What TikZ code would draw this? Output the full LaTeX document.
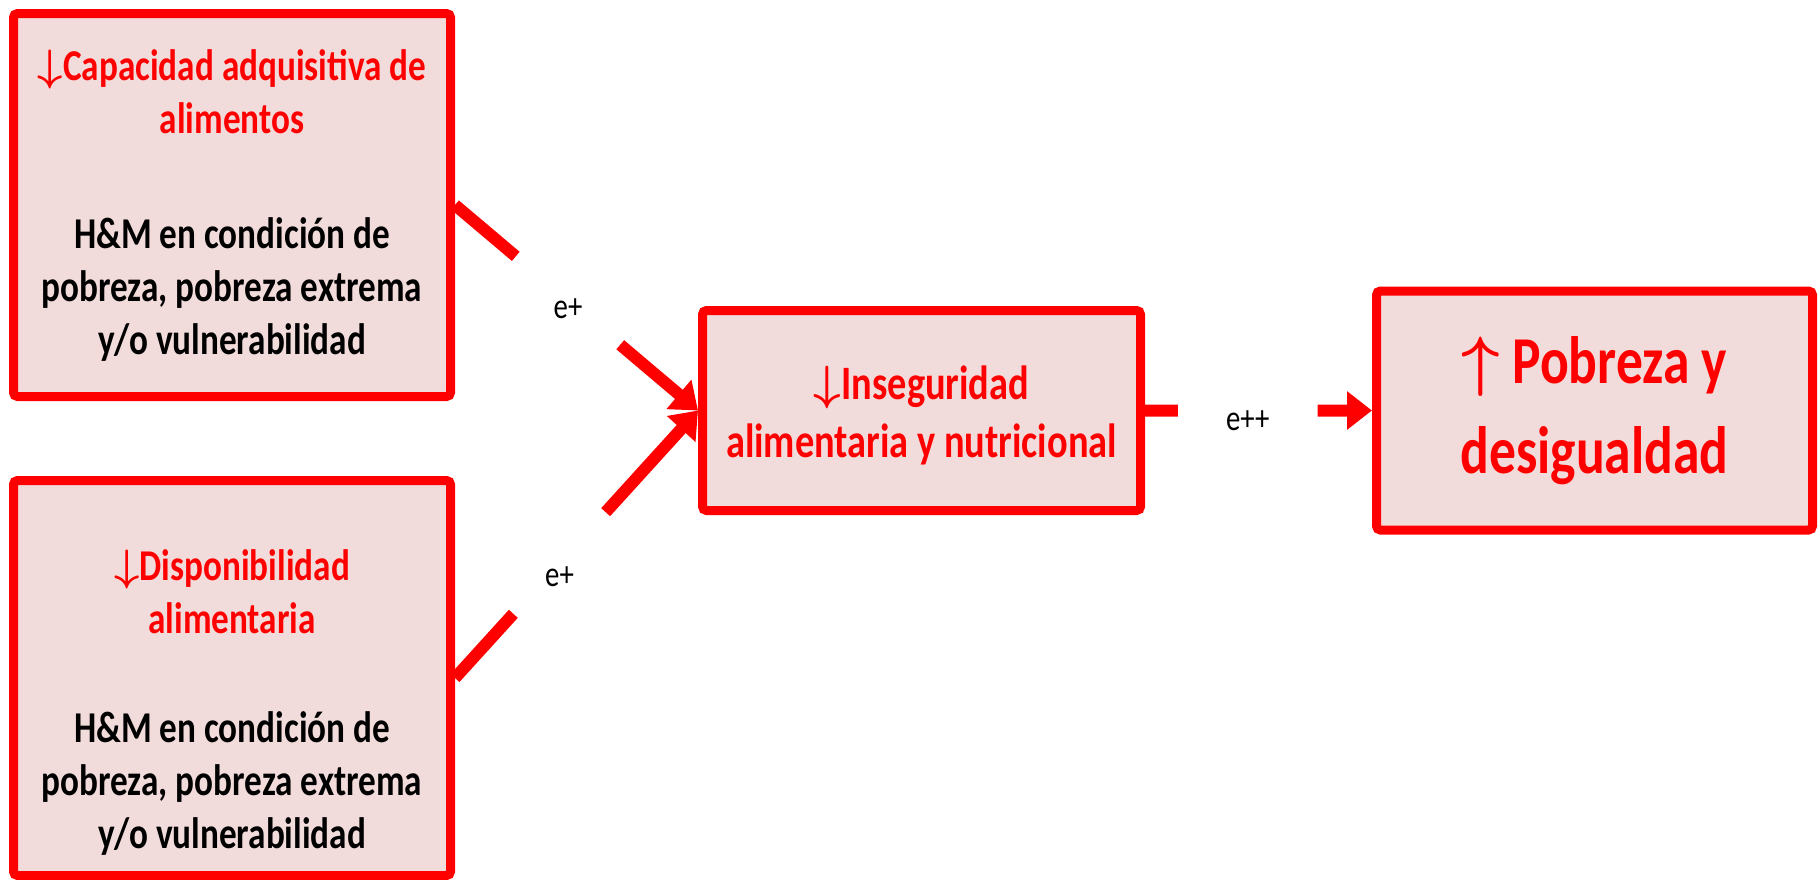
\RequirePackage{fix-cm}
\documentclass[tikz,border=0pt]{standalone}
\usepackage{amsmath}
\usepackage{fontspec}
\setmainfont{Carlito}[FakeStretch=0.8]
\usetikzlibrary{arrows.meta, positioning, calc}
\definecolor{boxpink}{RGB}{242,220,219}
\newcommand{\dn}{$\boldsymbol{\downarrow}$}
\newcommand{\up}{$\boldsymbol{\uparrow}$}

\begin{document}
\begin{tikzpicture}[x=1pt, y=1pt,
 box node/.style={draw=red, line width=9pt, fill=boxpink, rounded corners=4pt,
  align=center, inner sep=0pt, text=red, font=\bfseries\fontsize{44}{53}\selectfont},
 link/.style={draw=red, line width=12pt},
 link arrow/.style={link, -{Triangle[length=25pt, width=37pt]}},
 link label/.style={inner sep=0pt, text=black, font=\fontsize{36}{43}\selectfont}]

  \useasboundingbox (0,0) rectangle (1820,-879);

  \node[box node, minimum width=437pt, minimum height=383pt] (cap) at (232,-205)
   {\dn Capacidad adquisitiva de\\alimentos\\[62pt]
    \textcolor{black}{H\&M en condición de}\\
    \textcolor{black}{pobreza, pobreza extrema}\\
    \textcolor{black}{y/o vulnerabilidad}};
  \node[box node, minimum width=437pt, minimum height=395pt] (disp) [below of=cap, node distance=473pt]
   {\rule{0pt}{79pt}\dn Disponibilidad\\alimentaria\\[56pt]
    \textcolor{black}{H\&M en condición de}\\
    \textcolor{black}{pobreza, pobreza extrema}\\
    \textcolor{black}{y/o vulnerabilidad}};
  \node[box node, minimum width=438pt, minimum height=200pt,
   font=\bfseries\fontsize{48}{58}\selectfont] (inseg) at (921.5,-410.5)
   {\rule{0pt}{44pt}\dn Inseguridad\\alimentaria y nutricional};
  \node[box node, minimum width=436pt, minimum height=239pt,
   font=\bfseries\fontsize{67}{90}\selectfont] (pob) [right of=inseg, node distance=673pt]
   {\up\ Pobreza y\\desigualdad};

  % broken links, label in the gap
  \coordinate (c1) at ($(cap.east)!.25!(inseg.west)$);
  \coordinate (c2) at ($(cap.east)!.68!(inseg.west)$);
  \coordinate (d1) at ($(disp.east)!.24!(inseg.west)$);
  \coordinate (d2) at ($(disp.east)!.62!(inseg.west)$);
  \coordinate (i1) at ($(inseg.east)!.145!(pob.west)$);
  \coordinate (i2) at ($(inseg.east)!.76!(pob.west)$);

  \draw[link] (cap.east) -- (c1);
  \draw[link arrow] (c2) -- (inseg.west);
  \draw[link] (disp.east) -- (d1);
  \draw[link arrow] (d2) -- (inseg.west);
  \draw[link] (inseg.east) -- (i1);
  \draw[link arrow] (i2) -- (pob.west);

  \node[link label] (l1) at ($(c1)!.5!(c2)+(0,-8)$) {e+};
  \node[link label] (l2) at ($(d1)!.5!(d2)+(0,-14)$) {e+};
  \node[link label] (l3) at ($(i1)!.5!(i2)+(0,-10)$) {e++};
\end{tikzpicture}
\end{document}
